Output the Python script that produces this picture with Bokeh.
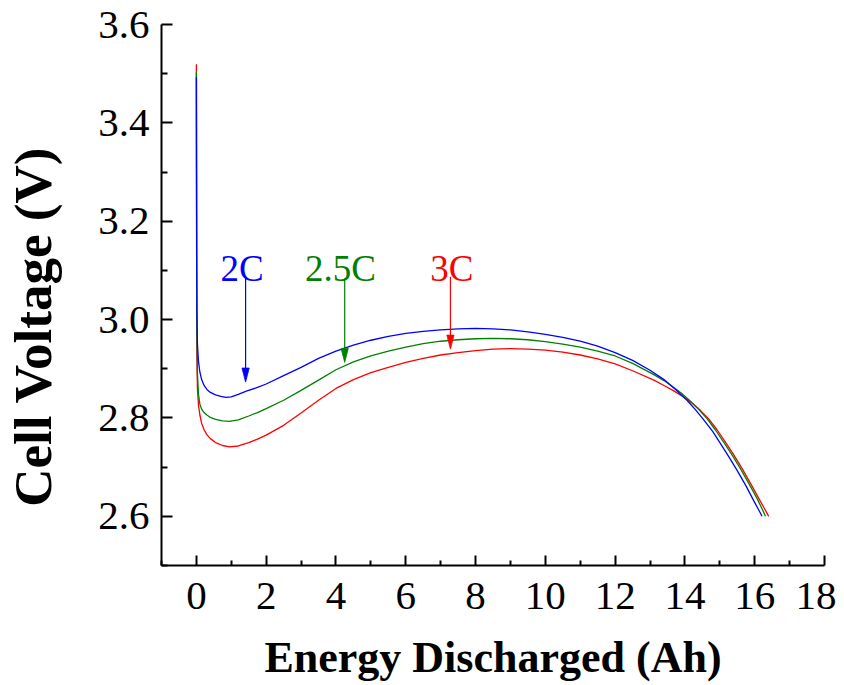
from bokeh.plotting import figure
from bokeh.models import Range1d, FixedTicker, NumeralTickFormatter, ColumnDataSource, LinearAxis
from bokeh.embed import file_html
from bokeh.resources import INLINE
from bokeh.core.properties import value

# ---------------- data ----------------
x_2c = [0, 0.003, 0.008, 0.015, 0.03, 0.06, 0.1, 0.15, 0.22, 0.3, 0.4, 0.55, 0.7, 0.85, 1.0,
        1.2, 1.45, 1.75, 2.0, 2.5, 3.0, 3.5, 4.0, 4.5, 5.0, 5.5, 6.0, 6.5, 7.0, 7.5, 8.0, 8.5,
        9.0, 9.5, 10.0, 10.5, 11.0, 11.5, 12.0, 12.5, 13.0, 13.4, 13.7, 14.06, 14.3, 14.54,
        14.8, 15.02, 15.26, 15.5, 15.75, 15.97, 16.1, 16.21]
v_2c = [3.493, 3.35, 3.15, 3.02, 2.95, 2.915, 2.893, 2.878, 2.866, 2.858, 2.852, 2.847, 2.844,
        2.842, 2.843, 2.848, 2.855, 2.862, 2.869, 2.886, 2.903, 2.921, 2.936, 2.948, 2.958,
        2.966, 2.972, 2.976, 2.979, 2.981, 2.982, 2.981, 2.979, 2.975, 2.970, 2.964, 2.956,
        2.946, 2.933, 2.917, 2.897, 2.878, 2.860, 2.836, 2.817, 2.796, 2.772, 2.748, 2.721,
        2.693, 2.662, 2.632, 2.615, 2.600]

x_25c = [0, 0.003, 0.008, 0.015, 0.03, 0.06, 0.1, 0.15, 0.22, 0.3, 0.4, 0.55, 0.75, 0.95, 1.2,
         1.5, 1.75, 2.0, 2.5, 3.0, 3.5, 4.0, 4.5, 5.0, 5.5, 6.0, 6.5, 7.0, 7.5, 8.0, 8.5, 9.0,
         9.5, 10.0, 10.5, 11.0, 11.5, 12.0, 12.5, 13.11, 13.4, 13.68, 13.92, 14.16, 14.4, 14.64,
         14.88, 15.11, 15.35, 15.59, 15.83, 16.07, 16.2, 16.31]
v_25c = [3.503, 3.33, 3.12, 2.98, 2.89, 2.848, 2.828, 2.818, 2.811, 2.806, 2.801, 2.797, 2.794,
         2.793, 2.796, 2.804, 2.811, 2.819, 2.836, 2.856, 2.877, 2.898, 2.914, 2.926, 2.936,
         2.944, 2.951, 2.956, 2.959, 2.961, 2.962, 2.961, 2.959, 2.955, 2.950, 2.944, 2.936,
         2.926, 2.911, 2.888, 2.876, 2.862, 2.849, 2.834, 2.817, 2.798, 2.775, 2.751, 2.725,
         2.697, 2.667, 2.636, 2.617, 2.600]

x_3c = [0, 0.003, 0.008, 0.015, 0.03, 0.06, 0.1, 0.15, 0.22, 0.3, 0.4, 0.55, 0.75, 0.95, 1.2,
        1.5, 1.75, 2.0, 2.5, 3.0, 3.5, 4.0, 4.5, 5.0, 5.5, 6.0, 6.5, 7.0, 7.5, 8.0, 8.5, 9.0,
        9.5, 10.0, 10.5, 11.0, 11.5, 12.0, 12.5, 13.11, 13.4, 13.68, 13.95, 14.21, 14.45, 14.68,
        14.92, 15.16, 15.4, 15.64, 15.88, 16.12, 16.27, 16.40]
v_3c = [3.519, 3.30, 3.05, 2.92, 2.86, 2.826, 2.806, 2.789, 2.776, 2.766, 2.758, 2.750, 2.744,
        2.741, 2.743, 2.750, 2.757, 2.765, 2.785, 2.810, 2.836, 2.860, 2.878, 2.892, 2.903,
        2.913, 2.921, 2.928, 2.933, 2.937, 2.940, 2.941, 2.940, 2.938, 2.934, 2.928, 2.920,
        2.910, 2.896, 2.877, 2.866, 2.855, 2.843, 2.830, 2.815, 2.798, 2.776, 2.751, 2.725,
        2.697, 2.667, 2.636, 2.617, 2.600]

series_names = ["2C", "2.5C", "3C"]
series_colors = ["#0000FF", "#008000", "#FF0000"]

# annotation labels and arrows
label_x = [1.31, 4.13, 7.32]
label_y = [3.104, 3.104, 3.104]
arrow_x = [1.41, 4.25, 7.28]
arrow_top = [3.084, 3.084, 3.087]
arrow_tip = [2.873, 2.913, 2.940]

x_ticks = [0, 2, 4, 6, 8, 10, 12, 14, 16, 18]
x_minor = [-1, 1, 3, 5, 7, 9, 11, 13, 15, 17]
y_ticks = [2.6, 2.8, 3.0, 3.2, 3.4, 3.6]
y_minor = [2.5, 2.7, 2.9, 3.1, 3.3, 3.5]

x_title = "Energy Discharged (Ah)"
y_title = "Cell Voltage (V)"

# ---------------- figure ----------------
FONT = "Liberation Serif"
p = figure(frame_width=663, frame_height=541,
           min_border_left=161, min_border_right=12, min_border_top=24, min_border_bottom=118,
           x_range=Range1d(-1, 18), y_range=Range1d(2.5, 3.6),
           output_backend="svg", toolbar_location=None)
p.grid.visible = False
p.outline_line_color = None
p.background_fill_color = "white"
p.border_fill_color = "white"

# draw 3C first so 2C sits on top, as in the reference
for xs, vs, c in zip([x_3c, x_25c, x_2c], [v_3c, v_25c, v_2c], series_colors[::-1]):
    p.line(xs, vs, line_color=c, line_width=1.3)

# arrows
head_len = 14 / 491.8     # 14 px expressed in volts
head_half = 3.6 / 34.9    # 3.6 px expressed in Ah
p.segment(x0=arrow_x, y0=arrow_top, x1=arrow_x, y1=[t + head_len * 0.9 for t in arrow_tip],
          line_color=series_colors, line_width=1.2)
p.patches(xs=[[ax - head_half, ax + head_half, ax] for ax in arrow_x],
          ys=[[t + head_len, t + head_len, t] for t in arrow_tip],
          fill_color=series_colors, line_color=series_colors, line_width=0.8)

src = ColumnDataSource(dict(x=label_x, y=label_y, text=series_names, color=series_colors))
p.text(x="x", y="y", text="text", text_color="color", source=src,
       text_font=value(FONT), text_font_size=value("37px"),
       text_align="center", text_baseline="alphabetic")

# axes
for ax in (p.xaxis[0], p.yaxis[0]):
    ax.axis_line_width = 2
    ax.axis_line_color = "black"
    ax.major_tick_line_width = 2
    ax.minor_tick_line_width = 2
    ax.major_tick_out = 0
    ax.minor_tick_out = 0
    ax.major_label_text_font = FONT
    ax.major_label_text_font_size = "41px"
    ax.major_label_text_color = "black"

p.xaxis.ticker = FixedTicker(ticks=x_ticks, minor_ticks=x_minor)
p.xaxis.major_tick_in = 10
p.xaxis.minor_tick_in = 5
p.xaxis.major_label_standoff = 17
p.xaxis.axis_label = x_title
p.xaxis.axis_label_text_font = FONT
p.xaxis.axis_label_text_font_style = "bold"
p.xaxis.axis_label_text_font_size = "44px"
p.xaxis.axis_label_text_color = "black"
p.xaxis.axis_label_standoff = 21

p.yaxis.ticker = FixedTicker(ticks=y_ticks, minor_ticks=y_minor)
p.yaxis.formatter = NumeralTickFormatter(format="0.0")
p.yaxis.major_tick_in = 11
p.yaxis.minor_tick_in = 6
p.yaxis.major_label_standoff = 12

# invisible helper axis that only carries the y title; trailing no-break spaces
# move the visible words lower, as in the reference
title_axis = LinearAxis(axis_label=y_title + "\u00a0" * 4 + "\u2009",
                        ticker=FixedTicker(ticks=[]),
                        axis_line_color=None, major_tick_line_color=None,
                        minor_tick_line_color=None, major_label_text_font_size="0px",
                        major_tick_out=0, minor_tick_out=0, major_label_standoff=0,
                        axis_label_text_font=FONT, axis_label_text_font_style="bold",
                        axis_label_text_font_size="53px", axis_label_text_color="black",
                        axis_label_standoff=34)
p.add_layout(title_axis, "left")

open("out.html", "w").write(file_html(p, INLINE))
